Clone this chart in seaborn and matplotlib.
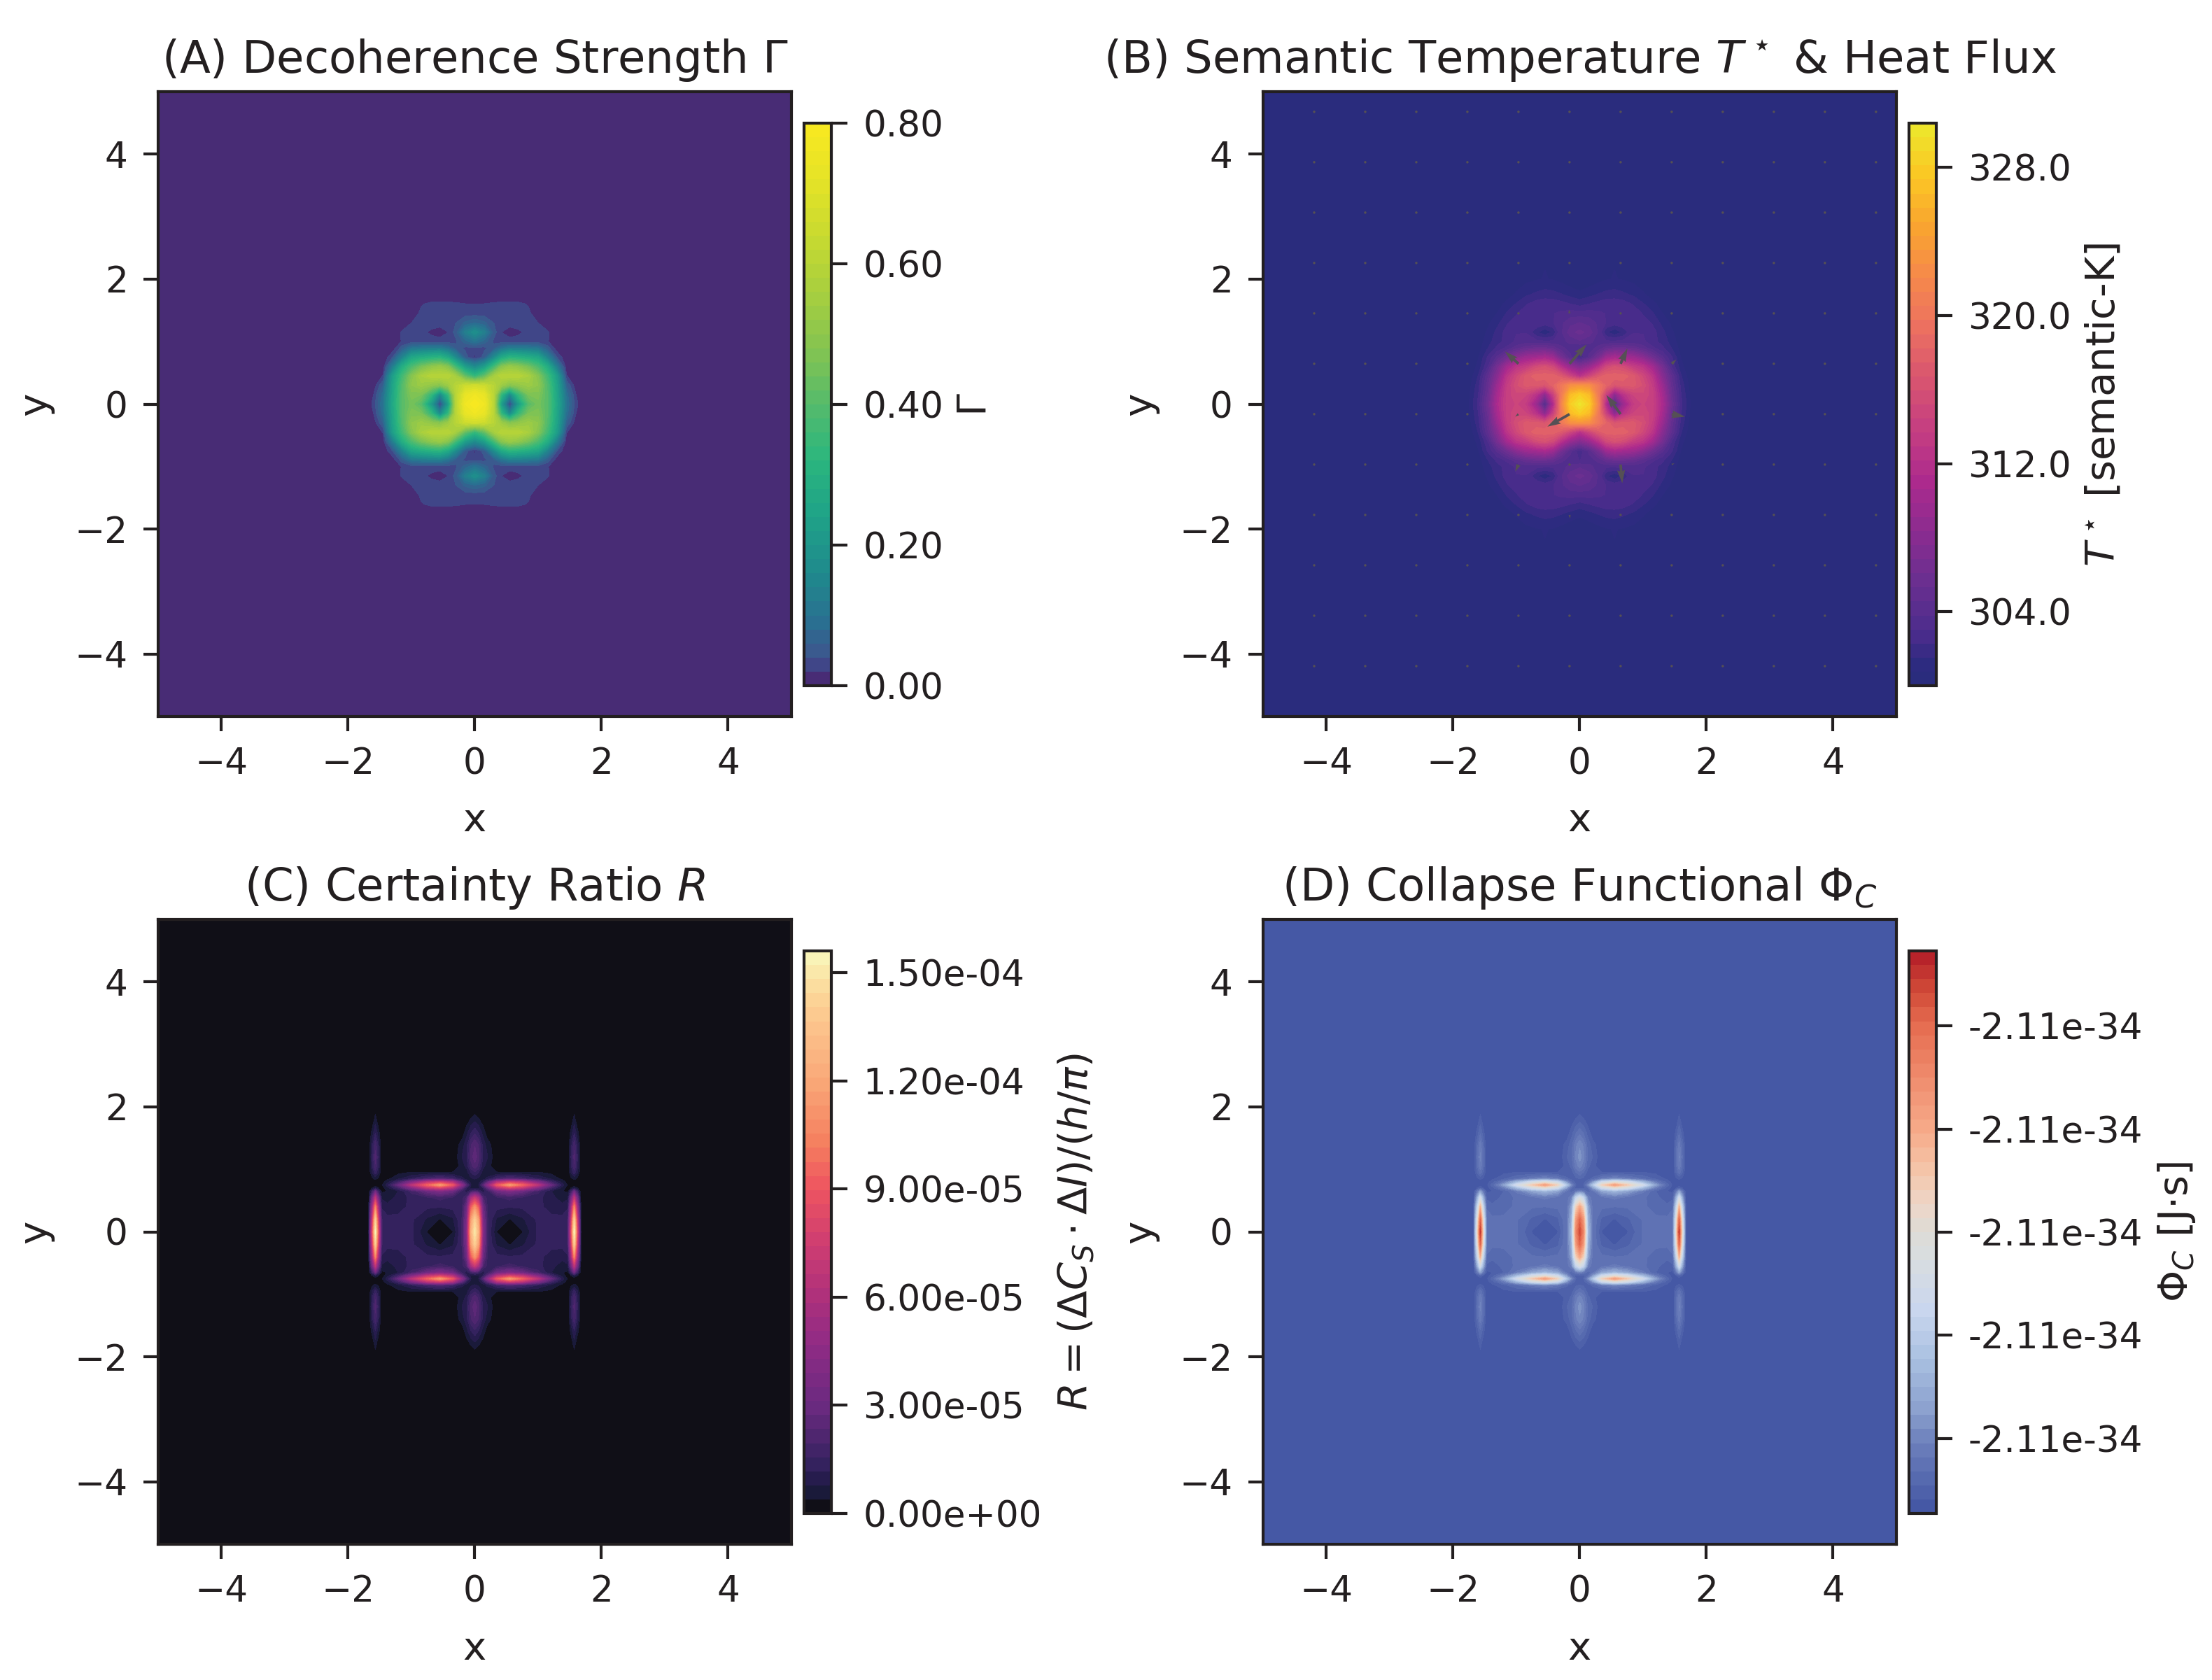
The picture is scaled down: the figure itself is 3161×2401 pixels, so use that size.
import numpy as np
import matplotlib
matplotlib.use("Agg")
import matplotlib.pyplot as plt
from matplotlib.colors import LinearSegmentedColormap
import seaborn as sns

# values, one quadrant only (x>=0, y>=0), mirrored later
gamma_x = [0, .15, .3, .42, .55, .68, .85, 1.0, 1.15, 1.3, 1.45, 1.6, 1.75, 2.0, 5.0]
gamma_y = [0, .15, .3, .45, .6, .75, .9, 1.0, 1.15, 1.3, 1.45, 1.6, 1.75, 2.0, 5.0]
gamma_q = [
    [.80, .76, .60, .22, .02, .20, .40, .45, .40, .26, .10, .025, 0, 0, 0],
    [.76, .73, .60, .33, .15, .33, .46, .47, .40, .25, .09, .02, 0, 0, 0],
    [.66, .65, .60, .53, .48, .50, .53, .50, .39, .24, .06, .005, 0, 0, 0],
    [.33, .42, .55, .60, .60, .60, .56, .48, .36, .22, .022, 0, 0, 0, 0],
    [.16, .22, .36, .48, .52, .50, .45, .38, .28, .12, .005, 0, 0, 0, 0],
    [.015, .05, .16, .26, .31, .30, .28, .25, .14, .04, 0, 0, 0, 0, 0],
    [.035, .035, .05, .09, .12, .12, .11, .10, .05, .005, 0, 0, 0, 0, 0],
    [.10, .07, .035, .03, .03, .03, .03, .03, .022, 0, 0, 0, 0, 0, 0],
    [.18, .13, .05, .02, .008, .015, .026, .03, .023, .005, 0, 0, 0, 0, 0],
    [.08, .065, .04, .03, .03, .03, .028, .02, .005, 0, 0, 0, 0, 0, 0],
    [.03, .03, .03, .03, .03, .03, .024, .008, 0, 0, 0, 0, 0, 0, 0],
    [.02, .021, .024, .026, .027, .026, .018, 0, 0, 0, 0, 0, 0, 0, 0],
    [0] * 15,
    [0] * 15,
    [0] * 15,
]

# T* minus 300, same nodes as gamma
temp_q = [
    [30, 28, 21, 11, 3.4, 9, 13.5, 14.5, 14, 11, 6, 2.5, .7, 0, 0],
    [28, 26.5, 20, 14, 8, 12, 14.5, 15, 14, 10.5, 5.5, 2.3, .6, 0, 0],
    [23, 22.5, 20, 18, 16.5, 17, 17, 15.8, 13.5, 9.5, 5, 2, .4, 0, 0],
    [12, 14.5, 17, 18, 18, 18, 17, 15, 12.5, 8, 4.5, 1.6, .2, 0, 0],
    [7.5, 9, 12, 15, 16, 15.5, 13.5, 12.5, 10, 6.5, 3, 1, .1, 0, 0],
    [2.5, 4, 6.5, 9.5, 10.5, 10, 9.5, 8, 6, 4, 2.4, .7, 0, 0, 0],
    [3, 3.5, 4, 5, 5.5, 5.5, 5, 4.2, 3.2, 2.5, 1.5, .4, 0, 0, 0],
    [4.4, 4, 3.5, 3.2, 3.2, 3.3, 3.4, 3.2, 2.6, 2, 1.2, .3, 0, 0, 0],
    [5.6, 5, 3.6, 1.6, .9, 1.6, 3, 3, 2.6, 1.8, .9, .2, 0, 0, 0],
    [4.6, 4.3, 3.6, 3, 2.7, 3, 3, 2.7, 2.2, 1.3, .6, 0, 0, 0, 0],
    [3.4, 3.4, 3.2, 3, 3, 3, 2.8, 2.2, 1.6, .8, .2, 0, 0, 0, 0],
    [2, 2.3, 2.6, 2.8, 2.8, 2.7, 2.2, 1.6, 1, .4, 0, 0, 0, 0, 0],
    [1, 1.3, 1.6, 1.8, 1.9, 1.7, 1.4, .9, .4, .1, 0, 0, 0, 0, 0],
    [0, .2, .5, .7, .8, .7, .5, .2, 0, 0, 0, 0, 0, 0, 0],
    [0] * 15,
]

# R in units of 1e-5
ratio_x = [0, .06, .13, .2, .35, .55, .75, 1.0, 1.2, 1.38, 1.47, 1.52, 1.57, 1.62, 1.68, 2.0, 5.0]
ratio_y = [0, .2, .4, .55, .65, .7, .75, .8, .85, .95, 1.05, 1.2, 1.4, 1.6, 1.85, 2.1, 5.0]
ratio_q = [
    [15, 12.5, 4, 1.6, .36, 0, .36, 1.25, 1.3, 1.3, 1.6, 8, 15.5, 8, 0, 0, 0],
    [14, 11.5, 3.6, 1.6, .7, .36, .7, 1.25, 1.3, 1.3, 1.6, 7, 14, 7, 0, 0, 0],
    [11, 9, 3, 1.5, 1.3, 1.2, 1.25, 1.3, 1.0, .9, 1.1, 5.2, 10.5, 5.2, 0, 0, 0],
    [7, 5.5, 2, 1.4, 1.5, 1.7, 1.5, 1.3, .9, .6, .7, 3.2, 6.5, 3.2, 0, 0, 0],
    [2, 1.6, .9, 1.4, 3, 3.8, 3, 1.7, .8, .4, .3, 1.5, 3, 1.5, 0, 0, 0],
    [.6, .6, 1.2, 2.5, 6, 7.5, 6.5, 3.8, 1.7, .6, .2, .4, .8, .4, 0, 0, 0],
    [.5, .8, 2.2, 4.5, 9, 11.5, 9.5, 6.5, 3, 1.0, .3, .1, .05, .1, 0, 0, 0],
    [.6, .6, 1.2, 2.5, 6, 7.5, 6.5, 3.8, 1.7, .6, .2, .1, .1, .1, 0, 0, 0],
    [.8, .7, .6, .9, 1.7, 2.2, 1.8, 1.2, .7, .3, .1, .3, .5, .3, 0, 0, 0],
    [1.5, 1.2, .6, .45, .42, .42, .42, .42, .3, .05, .03, .8, 1.4, .8, 0, 0, 0],
    [2.2, 1.8, .9, .6, 0, 0, 0, 0, 0, 0, 0, 1.1, 1.9, 1.1, 0, 0, 0],
    [2.6, 2.1, 1.1, .8, 0, 0, 0, 0, 0, 0, 0, 1.2, 2.1, 1.2, 0, 0, 0],
    [2.3, 1.9, 1.0, .6, 0, 0, 0, 0, 0, 0, 0, 1.0, 1.8, 1.0, 0, 0, 0],
    [1.4, 1.1, .6, .1, 0, 0, 0, 0, 0, 0, 0, .5, 1.1, .5, 0, 0, 0],
    [.45, .3, .05, 0, 0, 0, 0, 0, 0, 0, 0, 0, .45, 0, 0, 0, 0],
    [0] * 17,
    [0] * 17,
]

# Phi_C sits on a constant offset, the ticks all print the same
phi_base = -2.109e-34
phi_unit = 1e-38
phi_ticks = [-2.1087864e-34, -2.108493e-34, -2.1082e-34, -2.107907e-34, -2.107613e-34]

# heat flux arrows: index on the [::10] grid, then components
flux_i = [6, 7, 5, 8, 5, 6, 7, 8, 4, 5, 7, 8, 5, 6, 5, 6, 7]
flux_j = [7, 7, 7, 7, 6, 6, 6, 6, 6, 5, 5, 5, 8, 8, 4, 4, 4]
flux_u = [.27, .107, -.214, .074, -.05, -.35, -.225, .21, -.04, -.05, .026, .044, .03, -.01, .02, .01, .01]
flux_v = [.31, .246, .198, .067, -.04, -.20, .306, -.04, 0, -.11, -.30, .019, -.02, .063, .01, -.056, -.037]

# colours sampled from the colorbars: (position, colour)
viridis_stops = [(0, "#482c75"), (.0125, "#482c75"), (.0375, "#404688"), (.0625, "#3a5a8e"), (.11, "#2a6f91"),
                 (.2, "#1f8a8c"), (.3, "#1fa288"), (.4, "#2ab67e"), (.5, "#55bb6c"), (.6, "#85c450"),
                 (.7, "#a8cf3f"), (.8, "#c8da30"), (.9, "#e5e327"), (1, "#f9e920")]
plasma_stops = [(0, "#2a2c7d"), (.0125, "#2a2c7d"), (.0375, "#2d2b80"), (.09, "#4a2c8c"), (.18, "#692f90"),
                (.27, "#8a2c90"), (.36, "#ab2a8d"), (.45, "#c43d82"), (.55, "#d9566f"), (.64, "#ec7160"),
                (.73, "#f68a4a"), (.82, "#f9a52f"), (.91, "#fbc824"), (1, "#ece82c")]
magma_stops = [(0, "#100f17"), (.0125, "#100f17"), (.0375, "#1a1a3a"), (.0625, "#261c4d"), (.0875, "#35225f"),
               (.19, "#6a2a80"), (.3, "#8f2b85"), (.38, "#ac307c"), (.48, "#cf3d71"), (.58, "#ee5560"),
               (.66, "#f5805f"), (.77, "#f9a878"), (.87, "#fcc48c"), (.93, "#fcd99a"), (1, "#f8f8bd")]
coolwarm_stops = [(0, "#4558a5"), (.0125, "#4558a5"), (.13, "#6e82bd"), (.18, "#8a9fcd"), (.27, "#a8bfe0"),
                  (.36, "#c9d6ee"), (.45, "#d8dde0"), (.5, "#dddcd6"), (.55, "#eed6c8"), (.6, "#f3c9ae"),
                  (.68, "#f7ab8a"), (.78, "#ef8a6c"), (.87, "#e56c50"), (.93, "#d04a38"), (1, "#b21b27")]


def mirror(q, xn, yn):
    q = np.array(q, dtype=float)
    top = np.hstack([q[:, :0:-1], q])
    full = np.vstack([top[:0:-1], top])
    xn = np.array(xn)
    yn = np.array(yn)
    return np.r_[-xn[:0:-1], xn], np.r_[-yn[:0:-1], yn], full


sns.set_theme(context="paper", style="ticks")
plt.rcParams.update({"font.family": ["DejaVu Sans"], "axes.edgecolor": "#231f20", "text.color": "#231f20",
                     "axes.labelcolor": "#231f20", "xtick.color": "#231f20", "ytick.color": "#231f20",
                     "axes.linewidth": 1.0})

W, H = 3162, 2401
fig = plt.figure(figsize=(W / 300, H / 300), dpi=300)


def box(x0, x1, y0, y1):
    return [x0 / W, 1 - y1 / H, (x1 - x0) / W, (y1 - y0) / H]


def panel(col, row, xn, yn, q, levels, stops, title, label, ticks, fmt, labelpad=4.5):
    left = [226, 1805][col]
    top = [131, 1314][row]
    ax = fig.add_axes(box(left, left + 905, top, top + 893))
    cax = fig.add_axes(box(left + 923, left + 962, top + 45, top + 849))
    X, Y, Z = mirror(q, xn, yn)
    cmap = LinearSegmentedColormap.from_list("sampled", stops, N=512)
    cf = ax.contourf(X, Y, Z, levels=levels, cmap=cmap, extend="neither")
    ax.set_xlim(-5, 5)
    ax.set_ylim(-5, 5)
    ax.set_xticks([-4, -2, 0, 2, 4])
    ax.set_yticks([-4, -2, 0, 2, 4])
    ax.set_xlabel("x", fontsize=13.5, labelpad=7)
    ax.set_ylabel("y", fontsize=13.5, labelpad=7)
    ax.set_title(title, fontsize=15.4, pad=6.4)
    ax.tick_params(labelsize=12.4, length=5, width=1.0, pad=5.4)
    cb = fig.colorbar(cf, cax=cax, ticks=ticks, format=fmt)
    cb.outline.set_linewidth(1.0)
    cb.ax.tick_params(labelsize=12.4, length=5.5, width=1.0, pad=5.4)
    cb.set_label(label, fontsize=13.8, labelpad=labelpad)
    return ax


panel(0, 0, gamma_x, gamma_y, gamma_q, np.linspace(0, .8, 41), viridis_stops,
      r"(A) Decoherence Strength $\Gamma$", r"$\Gamma$", [0, .2, .4, .6, .8], "%.2f")

ax_b = panel(1, 0, gamma_x, gamma_y, np.array(temp_q) + 300, np.linspace(300, 330.4, 41), plasma_stops,
             r"(B) Semantic Temperature $T^\star$ & Heat Flux", r"$T^\star$ [semantic-K]",
             [304, 312, 320, 328], "%.1f")

grid = np.linspace(-5, 5, 125)[::10]
U = np.zeros((len(grid), len(grid)))
V = np.zeros((len(grid), len(grid)))
for i, j, u, v in zip(flux_i, flux_j, flux_u, flux_v):
    U[j, i] = u
    V[j, i] = v
ax_b.quiver(grid, grid, U, V, angles="xy", scale_units="xy", scale=1, color="#555055",
            width=.0042, pivot="tail")

ratio_full = np.array(ratio_q)
panel(0, 1, ratio_x, ratio_y, ratio_full * 1e-5, np.linspace(0, 1.56e-4, 41), magma_stops,
      r"(C) Certainty Ratio $R$", r"$R = (\Delta C_S \cdot \Delta I)/(h/\pi)$",
      [0, 3e-5, 6e-5, 9e-5, 1.2e-4, 1.5e-4], "%.2e", labelpad=5)

phi_q = phi_base + ratio_full * phi_unit
panel(1, 1, ratio_x, ratio_y, phi_q, np.linspace(phi_base, phi_base + 16 * phi_unit, 41), coolwarm_stops,
      r"(D) Collapse Functional $\Phi_C$", r"$\Phi_C$ [J$\cdot$s]", phi_ticks, "%.2e")

fig.savefig("out.png", dpi=300)
